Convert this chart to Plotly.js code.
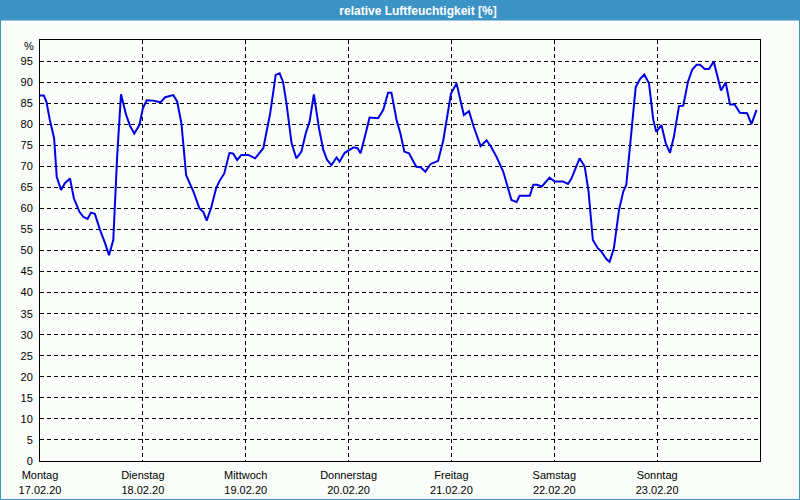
<!DOCTYPE html>
<html><head><meta charset="utf-8">
<script src="https://cdn.plot.ly/plotly-3.0.1.min.js"></script>
<style>html,body{margin:0;padding:0;background:#fafdfa;}#chart{width:800px;height:500px;}</style>
</head><body><div id="chart"></div>
<script>
const hours = [0,0.9,1.5,2.3,3.3,3.9,4.9,5.8,7,7.9,9.2,10.1,11.1,11.9,12.8,14,15.2,16.1,17.1,18,18.9,20.1,21,22,23.2,24,24.9,26.4,28.1,29.2,31.1,32,33,34.1,35.8,37.2,38.1,38.9,40,41.1,42,43,44.2,45.1,46,47,48.6,50.2,52.1,53.7,55,55.9,56.7,57.5,58.7,59.8,61,62,62.9,63.9,65.1,66.1,67,68,69.2,69.9,71.1,72.3,73.2,74.1,74.8,75.8,76.9,78.9,80.1,81.2,82,83.2,84.1,85,86.1,87.8,88.8,89.9,91.1,92.9,94.1,95.9,97.2,98.1,98.9,100.1,101.2,102.8,104.2,105.2,106.5,108.1,109,110,111.2,111.9,114.3,115.1,116,117.1,118.9,120.1,122,123.2,124,125.9,127.1,128,129,130.2,131,132.2,132.9,133.9,135.1,136.1,136.8,137.8,139,140,141,142.1,143.1,143.8,145,146,147,147.9,149.1,150.1,151.2,152.2,153.2,154,155.1,156.1,157.2,158.9,160,161,162.1,163.3,165,166,167.2];
const humidity = [86.8,86.8,85.3,81,76.6,67.5,64.4,66,67.1,62.4,59.2,58,57.5,59,58.7,54.9,51.7,48.9,52.5,72.3,87.1,82.2,79.6,77.8,79.8,83.8,85.7,85.6,85.2,86.4,86.9,85.4,80.2,67.9,64,60,59.2,57.1,60.4,64.8,66.7,68.3,73.2,73,71.5,72.7,72.7,71.9,74.3,82.5,91.7,92.1,90.1,85,75.5,71.9,73.5,77.8,80.6,87.1,79,73.9,71.5,70.3,72.1,71.1,73.2,73.9,74.5,74.3,73.1,77,81.6,81.4,83.4,87.5,87.5,81,77.8,73.5,73.1,69.9,69.8,68.7,70.5,71.3,76.2,87.3,89.7,85.7,82.2,83.1,79.4,74.8,76.2,74.7,72.3,68.7,65.2,62,61.5,63,63,65.6,65.6,65.2,67.3,66.4,66.4,65.8,67.1,71.9,69.9,64,52.5,50.5,49.7,47.9,47.3,50.5,59.6,64,65.6,76.2,88.8,90.7,91.8,89.7,81,78.2,79.8,75.5,73.2,77,84.3,84.4,90.1,93,94.1,94.1,93.1,93.1,94.9,88,89.9,84.7,84.7,82.7,82.6,80,83.4];
const dayTicks = [0,24,48,72,96,120,144];
const dayNames = ["Montag","Dienstag","Mittwoch","Donnerstag","Freitag","Samstag","Sonntag"];
const dayDates = ["17.02.20","18.02.20","19.02.20","20.02.20","21.02.20","22.02.20","23.02.20"];
const yTicks = [0,5,10,15,20,25,30,35,40,45,50,55,60,65,70,75,80,85,90,95];
const titleText = "relative Luftfeuchtigkeit [%]";
const unitLabel = "%";

const W = 800, H = 500, L = 40, R = 40, T = 40, B = 39;
const pw = W - L - R, ph = H - T - B;
const px = v => v / pw, py = v => v / ph;
const blue = "#3c93c6";
const font = {family: "Liberation Sans, Arial, sans-serif", size: 11, color: "#000"};

const trace = {x: hours, y: humidity, type: "scatter", mode: "lines",
  line: {color: "#0000e6", width: 2}, hoverinfo: "skip"};

const layout = {
  width: W, height: H,
  margin: {l: L, r: R, t: T, b: B, pad: 0},
  paper_bgcolor: "#fafdfa", plot_bgcolor: "#fafdfa",
  showlegend: false, font: font,
  title: {text: "<b>" + titleText + "</b>", x: 418 / W, xanchor: "center", xref: "container",
    y: 1 - 10.5 / H, yanchor: "middle", yref: "container",
    font: {family: "Liberation Sans, Arial, sans-serif", size: 12, color: "#ffffff"}},
  xaxis: {range: [0, 168], tickvals: dayTicks,
    ticktext: dayNames.map((d, i) => d + "<br>" + dayDates[i]),
    showgrid: true, gridcolor: "#000", gridwidth: 1, griddash: "4px,3px",
    showline: true, mirror: true, linecolor: "#000", linewidth: 1,
    ticks: "", ticklabelstandoff: 4, zeroline: false, fixedrange: true, tickfont: font},
  yaxis: {range: [0, 100], tickvals: yTicks, ticktext: yTicks.map(String),
    showgrid: true, gridcolor: "#000", gridwidth: 1, griddash: "4px,3px",
    showline: true, mirror: true, linecolor: "#000", linewidth: 1,
    ticks: "", ticklabelstandoff: 4, zeroline: false, fixedrange: true, tickfont: font},
  shapes: [
    {type: "rect", xref: "paper", yref: "paper", layer: "below",
     x0: px(-L), x1: 1 + px(R), y0: 1 + py(T - 20.5), y1: 1 + py(T),
     fillcolor: blue, line: {width: 0}},
    {type: "rect", xref: "paper", yref: "paper", layer: "above",
     x0: px(-L + 0.5), x1: 1 + px(R - 0.5), y0: py(-B + 0.5), y1: 1 + py(T - 0.5),
     fillcolor: "rgba(0,0,0,0)", line: {color: blue, width: 1}}
  ],
  annotations: [
    {text: unitLabel, xref: "paper", yref: "paper", x: px(-4), y: 1 - py(6),
     xanchor: "right", yanchor: "middle", showarrow: false, font: font}
  ]
};
Plotly.newPlot("chart", [trace], layout, {staticPlot: true, displayModeBar: false});
</script></body></html>
